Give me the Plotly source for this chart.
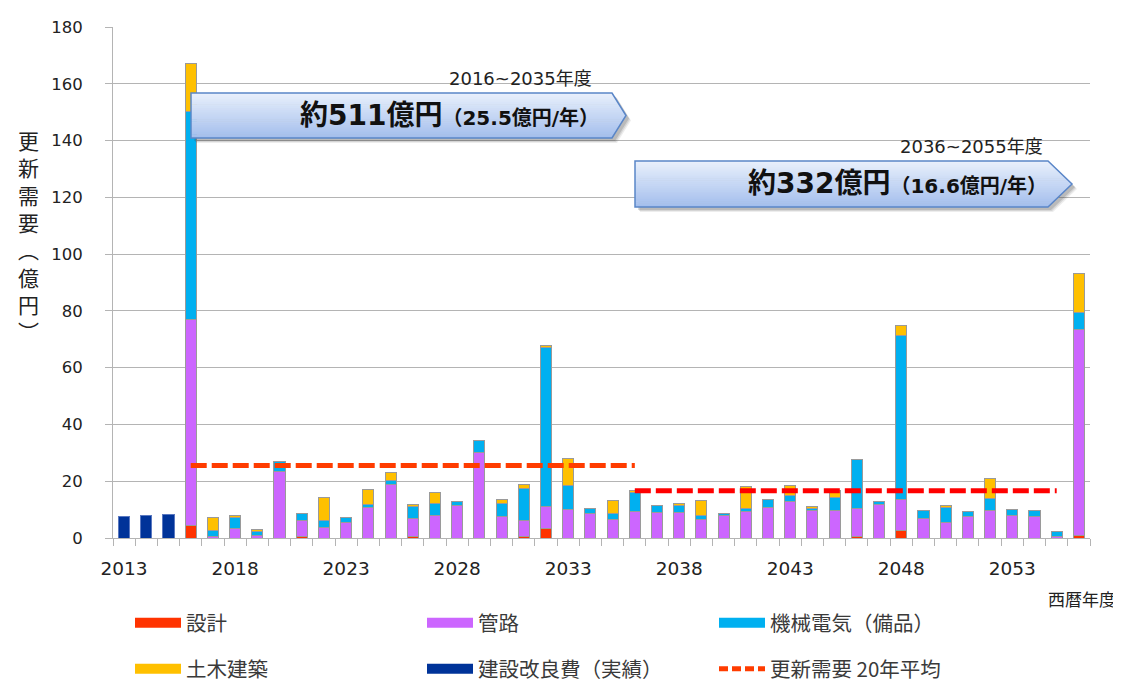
import plotly.graph_objects as go

# ---------------- data ----------------
years = list(range(2013, 2057))

design = {2016: 4.3, 2021: 0.4, 2026: 0.5, 2031: 0.7, 2032: 3.2, 2046: 0.5, 2048: 2.8, 2056: 0.9}

pipe_vals = [0, 0, 0, 72.5, 0.5, 3.4, 0.8, 23.6, 5.7, 3.7, 5.5, 10.8, 18.7, 6.4, 8.0,
             11.6, 30.1, 7.4, 5.5, 7.8, 10.1, 8.7, 6.5, 9.2, 8.9, 8.9, 6.5, 8.0, 9.2,
             10.8, 12.9, 9.8, 9.8, 9.9, 11.9, 10.8, 7.0, 5.5, 7.4, 9.8, 8.0, 7.4, 0.5, 72.7]

mech_vals = [0, 0, 0, 73.6, 2.3, 3.7, 1.6, 3.4, 2.5, 2.6, 1.6, 1.0, 1.6, 4.3, 4.2,
             1.4, 4.2, 4.9, 11.2, 56.0, 8.4, 1.6, 2.1, 6.8, 2.7, 2.6, 1.3, 0.8, 1.3,
             2.9, 2.0, 0.5, 4.4, 17.4, 0.9, 57.9, 2.6, 5.3, 1.9, 4.0, 2.2, 2.2, 1.8, 6.0]

civil_vals = [0, 0, 0, 16.7, 4.3, 0.7, 0.7, 0, 0, 8.1, 0, 5.3, 2.7, 0.7, 3.7,
              0, 0, 1.1, 1.6, 0.9, 9.5, 0, 4.7, 0.7, 0, 0.8, 5.5, 0, 7.8,
              0, 3.5, 0.7, 2.6, 0, 0, 3.5, 0, 0.6, 0, 7.0, 0, 0, 0, 13.7]

actual = {2013: 7.5, 2014: 7.8, 2015: 8.2}

avg1_years = list(range(2016, 2037))
avg1_value = 25.5
avg2_years = list(range(2036, 2056))
avg2_value = 16.6

tick_years = [2013, 2018, 2023, 2028, 2033, 2038, 2043, 2048, 2053]

names = ["設計", "管路", "機械電気（備品）", "土木建築", "建設改良費（実績）", "更新需要 20年平均"]
colors = ["#FF3300", "#CC66FF", "#00B0F0", "#FFC000", "#003399", "#FF3C00"]

# ---------------- layout geometry (page pixels; body margin = 8px) ----------------
OFF = 8
W, H = 1113, 674
ML, MT = 113 - OFF, 27 - OFF
PW, PH = 977, 511
MR, MB = W - ML - PW, H - MT - PH


def px(x):
    return (x - OFF - ML) / PW


def py(y):
    return 1 - (y - OFF - MT) / PH


design_vals = [design.get(y, 0) for y in years]
actual_vals = [actual.get(y, None) for y in years]

fig = go.Figure()
outline = dict(color="#9A9A9A", width=1)
for vals, nm, col in [(design_vals, names[0], colors[0]), (pipe_vals, names[1], colors[1]),
                      (mech_vals, names[2], colors[2]), (civil_vals, names[3], colors[3]),
                      (actual_vals, names[4], colors[4])]:
    fig.add_trace(go.Bar(x=years, y=vals, name=nm, width=0.5, showlegend=False,
                         marker=dict(color=col, line=outline if nm != names[4] else dict(color="#5A78C0", width=1)),
                         hoverinfo="x+y+name"))

fig.add_trace(go.Scatter(x=avg1_years, y=[avg1_value] * len(avg1_years), mode="lines", showlegend=False,
                         line=dict(color="#FF3C00", width=5, dash="16px,5px"), name=names[5]))
fig.add_trace(go.Scatter(x=avg2_years, y=[avg2_value] * len(avg2_years), mode="lines", showlegend=False,
                         line=dict(color="#FF0000", width=5, dash="16px,5px"), name=names[5]))

# legend entries (two rows)
for i, (nm, col) in enumerate(zip(names, colors)):
    leg = "legend" if i < 3 else "legend2"
    dash = "9px,4px" if i == 5 else None
    fig.add_trace(go.Scatter(x=[None], y=[None], mode="lines", name=nm, legend=leg, showlegend=True,
                             line=dict(color=col, width=10 if i < 5 else 5, dash=dash)))

legend_common = dict(orientation="h", xanchor="left", yanchor="middle", entrywidth=231,
                     entrywidthmode="pixels", itemwidth=46, bgcolor="rgba(0,0,0,0)",
                     traceorder="normal",
                     font=dict(family="Noto Sans CJK JP", size=20.5, color="#3A3A3A"),
                     itemclick=False, itemdoubleclick=False)
fig.update_layout(legend=dict(x=px(130), y=py(623), **legend_common),
                  legend2=dict(x=px(130), y=py(669), **legend_common))

# ---------------- callout arrows ----------------
shapes = []


def arrow(L, T, B, body_end, tip, n=24):
    mid = (T + B) / 2
    half = (B - T) / 2

    def xr(y):
        return body_end + (tip - body_end) * (1 - abs(y - mid) / half)

    def to_path(pts):
        return "M " + " L ".join(f"{px(a):.5f},{py(b):.5f}" for a, b in pts) + " Z"

    # soft shadow
    for sh, op in [(5, 0.10), (4, 0.15), (3, 0.2)]:
        pts = [(L + sh, T + sh), (body_end + sh, T + sh), (tip + sh, mid + sh),
               (body_end + sh, B + sh), (L + sh, B + sh)]
        shapes.append(dict(type="path", path=to_path(pts), xref="paper", yref="paper", layer="above",
                           fillcolor=f"rgba(80,80,80,{op})", line=dict(width=0)))
    c0 = (234, 241, 252)
    c1 = (163, 190, 237)
    for k in range(n):
        ya = T + (B - T) * k / n
        yb = min(T + (B - T) * (k + 1) / n + 0.6, B)
        t = (k + 0.5) / n
        c = tuple(int(c0[j] + (c1[j] - c0[j]) * t) for j in range(3))
        pts = [(L, ya), (xr(ya), ya)]
        if ya < mid < yb:
            pts.append((tip, mid))
        pts += [(xr(yb), yb), (L, yb)]
        shapes.append(dict(type="path", path=to_path(pts), xref="paper", yref="paper", layer="above",
                           fillcolor=f"rgb{c}", line=dict(width=0)))
    pts = [(L, T), (body_end, T), (tip, mid), (body_end, B), (L, B)]
    shapes.append(dict(type="path", path=to_path(pts), xref="paper", yref="paper", layer="above",
                       fillcolor="rgba(0,0,0,0)", line=dict(color="#5A86C8", width=1.5)))


arrow(191, 93, 138, 612, 626)
arrow(635, 161, 207, 1048, 1072)
fig.update_layout(shapes=shapes)

big = "DejaVu Sans, Noto Sans CJK JP"
ann = []
ann.append(dict(text="<b>約511億円<span style='font-size:20px'>（25.5億円/年）</span></b>",
                x=px(601), y=py(116), xref="paper", yref="paper", xanchor="right", yanchor="middle",
                showarrow=False, font=dict(family=big, size=28, color="#111111")))
ann.append(dict(text="<b>約332億円<span style='font-size:20px'>（16.6億円/年）</span></b>",
                x=px(1049), y=py(184), xref="paper", yref="paper", xanchor="right", yanchor="middle",
                showarrow=False, font=dict(family=big, size=28, color="#111111")))
ann.append(dict(text="2016~2035年度", x=px(594), y=py(78), xref="paper", yref="paper",
                xanchor="right", yanchor="middle", showarrow=False,
                font=dict(family=big, size=18, color="#222222")))
ann.append(dict(text="2036~2055年度", x=px(1045), y=py(146), xref="paper", yref="paper",
                xanchor="right", yanchor="middle", showarrow=False,
                font=dict(family=big, size=18, color="#222222")))
ann.append(dict(text="西暦年度", x=px(1118), y=py(598), xref="paper", yref="paper",
                xanchor="right", yanchor="middle", showarrow=False,
                font=dict(family="Noto Sans CJK JP", size=17, color="#222222")))
ytitle = "更新需要︵億円︶"
ann.append(dict(text="<br>".join(ytitle), x=px(28), y=py(236), xref="paper", yref="paper",
                xanchor="center", yanchor="middle", showarrow=False,
                font=dict(family="Noto Sans CJK JP", size=21, color="#222222")))
fig.update_layout(annotations=ann)

grid = "#B4B4B4"
fig.update_layout(
    width=W, height=H, margin=dict(l=ML, r=MR, t=MT, b=MB, autoexpand=False),
    plot_bgcolor="white", paper_bgcolor="white", barmode="stack",
    xaxis=dict(range=[2012.5, 2056.5], tickvals=tick_years, ticktext=[str(t) for t in tick_years],
               ticks="outside", ticklen=14, tickcolor="rgba(0,0,0,0)", showgrid=False,
               showline=True, linecolor=grid, linewidth=1, zeroline=False, automargin=False,
               tickfont=dict(family="DejaVu Sans", size=18.5, color="#222222"),
               minor=dict(tickvals=[y - 0.5 for y in years] + [2056.5], ticks="outside", ticklen=7,
                          tickcolor=grid, showgrid=False)),
    yaxis=dict(range=[0, 180], dtick=20, ticks="outside", ticklen=7, tickcolor=grid,
               showgrid=True, gridcolor=grid, gridwidth=1, showline=True, linecolor=grid, linewidth=1,
               zeroline=False, automargin=False, ticklabelstandoff=19,
               tickfont=dict(family="DejaVu Sans", size=16.5, color="#222222")),
)

fig.write_html("out.html")
